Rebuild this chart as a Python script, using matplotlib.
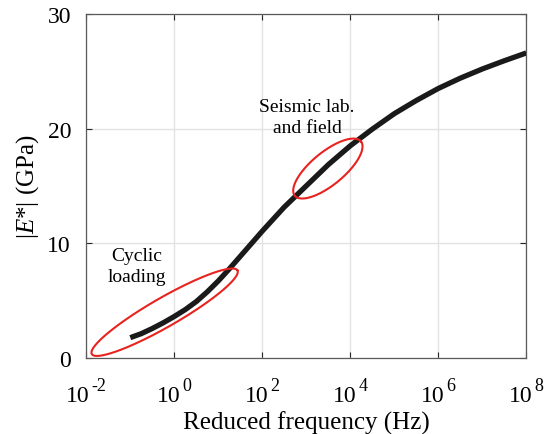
import numpy as np
import matplotlib
matplotlib.use('Agg')
import matplotlib.pyplot as plt

plt.rcParams['font.family'] = ['Liberation Serif', 'DejaVu Serif']
plt.rcParams['mathtext.fontset'] = 'custom'
plt.rcParams['mathtext.rm'] = 'Liberation Serif'
plt.rcParams['mathtext.it'] = 'Liberation Serif:italic'

# master curve: log10(reduced frequency) vs |E*| (GPa)
log_freq = [-1.0, -0.75, -0.5, -0.25, 0.0, 0.25, 0.5, 0.75, 1.0, 1.25, 1.5,
            1.75, 2.0, 2.5, 3.0, 3.5, 4.0, 4.5, 5.0, 5.5, 6.0, 6.5, 7.0, 7.5, 8.0]
modulus = [1.75, 2.1, 2.55, 3.05, 3.6, 4.2, 4.9, 5.75, 6.7, 7.75, 8.85,
           9.95, 11.05, 13.15, 15.0, 16.85, 18.5, 19.95, 21.3, 22.45, 23.5,
           24.4, 25.2, 25.92, 26.6]

x_ticks = [1e-2, 1e0, 1e2, 1e4, 1e6, 1e8]
x_exps = ['-2', '0', '2', '4', '6', '8']
y_ticks = [0, 10, 20, 30]

# ellipses: centre (log10 f, GPa), semi-axes in pixels, angle in degrees
ell_cyclic = (-0.22, 3.97, 84, 14.5, 29.9)
ell_seismic = (3.49, 16.51, 42.8, 16.4, 39.4)

W, H = 545, 435
fig = plt.figure(figsize=(W / 100, H / 100), dpi=100)
left, right, top, bottom = 86.3, 526.3, 15.0, 358.7
ax = fig.add_axes([left / W, 1 - bottom / H, (right - left) / W, (bottom - top) / H])

freq = [10 ** v for v in log_freq]
ax.plot(freq, modulus, color='#1a1a1a', lw=3.8, solid_capstyle='butt', zorder=3)

px_dec = (right - left) / 10.0
px_gpa = (bottom - top) / 30.0


def ellipse(c):
    u0, y0, a, b, ang = c
    t = np.linspace(0, 2 * np.pi, 200)
    th = np.deg2rad(ang)
    dx = a * np.cos(t) * np.cos(th) - b * np.sin(t) * np.sin(th)
    dy = a * np.cos(t) * np.sin(th) + b * np.sin(t) * np.cos(th)
    return 10 ** (u0 + dx / px_dec), y0 + dy / px_gpa


for e in [ell_cyclic, ell_seismic]:
    ex, ey = ellipse(e)
    ax.plot(ex, ey, color='#e8231f', lw=1.5, zorder=4, clip_on=False)

ax.text(10 ** -0.86, 8.0, 'Cyclic\nloading', ha='center', va='center',
        fontsize=14, linespacing=1.33)
ax.text(10 ** 3.02, 21.0, 'Seismic lab.\nand field', ha='center', va='center',
        fontsize=14, linespacing=1.33)

ax.set_xscale('log')
ax.set_xlim(1e-2, 1e8)
ax.set_ylim(0, 30)
ax.set_xticks(x_ticks)
ax.set_xticklabels([''] * len(x_ticks))
ax.set_xticks([], minor=True)
ax.set_yticks(y_ticks)
ax.grid(True, color='#e2e2e2', lw=1.0)
ax.set_axisbelow(True)
ax.tick_params(direction='in', length=4, width=0.8, top=True, right=True,
               labelsize=17, colors='#262626', labelcolor='black')
ax.tick_params(axis='y', pad=11)
for s in ax.spines.values():
    s.set_color('#5a5a5a')
    s.set_linewidth(0.9)

# x tick labels "10" with a big, well-spaced exponent (as in the original)
trans = ax.get_xaxis_transform()
base_y = -31.0   # points below the axis, baseline of "10"
raise_y = 8.0    # exponent baseline above that
gap = 1.5        # points between "10" and exponent
pairs = []
for v, ex_txt in zip(x_ticks, x_exps):
    b = ax.annotate('10', xy=(v, 0), xycoords=trans, xytext=(0, base_y),
                    textcoords='offset points', ha='left', va='baseline',
                    fontsize=17, annotation_clip=False)
    e = ax.annotate(ex_txt, xy=(v, 0), xycoords=trans, xytext=(0, base_y + raise_y),
                    textcoords='offset points', ha='left', va='baseline',
                    fontsize=13, annotation_clip=False)
    pairs.append((b, e))

fig.canvas.draw()
r = fig.canvas.get_renderer()
to_pt = 72.0 / fig.dpi
for b, e in pairs:
    wb = b.get_window_extent(r).width * to_pt
    we = e.get_window_extent(r).width * to_pt
    x0 = -(wb + gap + we) / 2.0
    b.set_position((x0, base_y))
    e.set_position((x0 + wb + gap, base_y + raise_y))

ax.set_xlabel('Reduced frequency (Hz)', fontsize=18, va='top')
ax.xaxis.set_label_coords(0.5, -0.155)
ax.set_ylabel('|$E$*| (GPa)', fontsize=18, labelpad=4.5)

fig.savefig('out.png', dpi=100)
